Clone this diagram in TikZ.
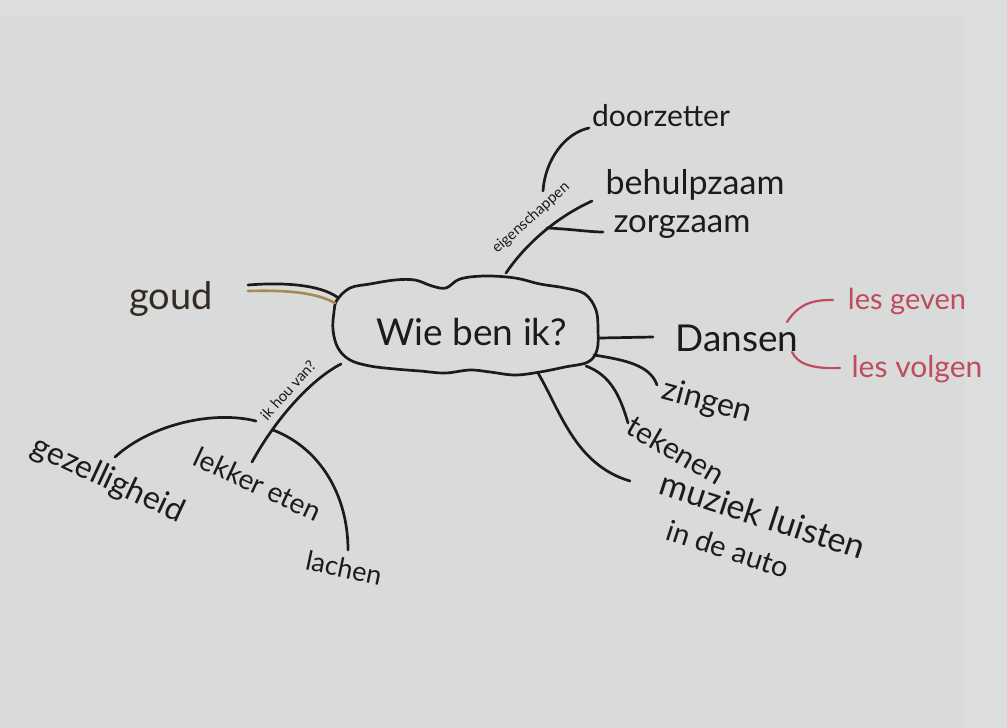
\documentclass[tikz,border=0pt]{standalone}
\usepackage{fontspec}
\setmainfont{Lato}
\definecolor{paper}{HTML}{D9DBDA}
\definecolor{paperedge}{HTML}{DCDEDD}
\definecolor{ink}{HTML}{1E1A1A}
\definecolor{redink}{HTML}{C04A5E}
\definecolor{goldink}{HTML}{A8894E}
\tikzset{
  pen/.style={draw=ink, line width=2.7pt, line cap=round, line join=round},
  redpen/.style={draw=redink, line width=2.2pt, line cap=round},
  goldpen/.style={draw=goldink, line width=2.6pt, line cap=round},
  label/.style={text=ink, inner sep=0pt, font=\fontsize{#1}{#1}\selectfont},
  redlabel/.style={text=redink, inner sep=0pt, font=\fontsize{#1}{#1}\selectfont},
}
\begin{document}
\begin{tikzpicture}[x=1pt,y=-1pt]
\useasboundingbox (0,0) rectangle (1007,728);
\fill[paper] (0,0) rectangle (1007,728);
\fill[paperedge] (965,0) rectangle (1007,728);
\fill[paperedge] (0,0) rectangle (965,16);

% central cloud
\draw[pen] plot[smooth cycle, tension=0.6] coordinates {
 (337,300) (350,288) (370,284) (395,280) (415,280) (432,286) (446,288)
 (460,279) (485,276) (515,278) (540,284) (565,288) (585,294)
 (596,310) (598,330) (597,350) (588,362) (565,367) (540,372)
 (515,375) (490,372) (470,370) (445,373) (420,371) (395,369)
 (370,366) (350,360) (338,348) (333,330) (334,312)};
\node[label=37] (center) at (472,332) {Wie ben ik?};

% named connector ends on cloud
\coordinate (cTop) at (506,273);
\coordinate (cLeft) at (337,297);
\coordinate (cLL) at (341,364);
\coordinate (cR) at (600,338);
\coordinate (cR2) at (594,355);
\coordinate (cR3) at (586,366);
\coordinate (cB) at (538,373);

% eigenschappen branch
\node[label=15, rotate=42] (eig) at (531,218) {eigenschappen};
\coordinate (eigEnd) at (592,201);
\draw[pen] (cTop) .. controls (525,245) and (555,218) .. (eigEnd);
\node[label=30] (doorzetter) at (661,116) {doorzetter};
\node[label=34] (behulp) at (695,185) {behulpzaam};
\node[label=33] (zorg) at (682,227) {zorgzaam};
\coordinate (dzA) at (543,191);
\coordinate (dzB) at (589,128);
\draw[pen] (dzA) .. controls (545,160) and (565,133) .. (dzB);
\coordinate (zgA) at (547,228);
\coordinate (zgB) at (603,232);
\draw[pen] (zgA) .. controls (570,229) and (590,232) .. (zgB);

% goud
\node[label=38, text=ink!85!goldink] (goud) at (171,299) {goud};
\coordinate (gdA) at (248,285);
\coordinate (gdB) at (248,291);
\draw[goldpen] (gdB) .. controls (285,290) and (315,292) .. (335,303);
\draw[pen] (gdA) .. controls (285,282) and (320,285) .. (cLeft);

% ik hou van? branch
\node[label=15, rotate=48] (ikhou) at (288,390) {ik hou van?};
\coordinate (ihEnd) at (252,462);
\draw[pen] (cLL) .. controls (310,380) and (275,420) .. (ihEnd);
\node[label=32, rotate=-25] (gez) at (108,480) {gezelligheid};
\node[label=28, rotate=-25] (lekker) at (258,484) {lekker eten};
\node[label=27, rotate=-12] (lachen) at (344,568) {lachen};
\coordinate (gzA) at (115,457);
\coordinate (gzB) at (256,421);
\draw[pen] (gzA) .. controls (150,425) and (212,410) .. (gzB);
\coordinate (lcA) at (273,430);
\coordinate (lcB) at (348,550);
\draw[pen] (lcA) .. controls (320,448) and (348,495) .. (lcB);

% right branches
\node[label=37] (dansen) at (737,338) {Dansen};
\coordinate (dsA) at (653,337);
\draw[pen] (cR) -- (dsA);
\node[redlabel=29] (geven) at (907,301) {les geven};
\node[redlabel=30] (volgen) at (917,369) {les volgen};
\coordinate (gvA) at (787,322);
\coordinate (gvB) at (833,300);
\draw[redpen] (gvA) .. controls (800,302) and (815,300) .. (gvB);
\coordinate (vgA) at (792,352);
\coordinate (vgB) at (840,368);
\draw[redpen] (vgA) .. controls (798,365) and (815,369) .. (vgB);

\node[label=32, rotate=-15] (zingen) at (707,402) {zingen};
\coordinate (zgE) at (657,385);
\draw[pen] (cR2) .. controls (625,360) and (650,365) .. (zgE);
\node[label=30, rotate=-30] (tekenen) at (676,450) {tekenen};
\coordinate (tkE) at (628,423);
\draw[pen] (cR3) .. controls (610,375) and (620,395) .. (tkE);
\node[label=34, rotate=-18] (muziek) at (763,515) {muziek luisten};
\node[label=29, rotate=-18] (auto) at (728,549) {in de auto};
\coordinate (mzE) at (630,481);
\draw[pen] (cB) .. controls (560,410) and (575,465) .. (mzE);
\end{tikzpicture}
\end{document}
